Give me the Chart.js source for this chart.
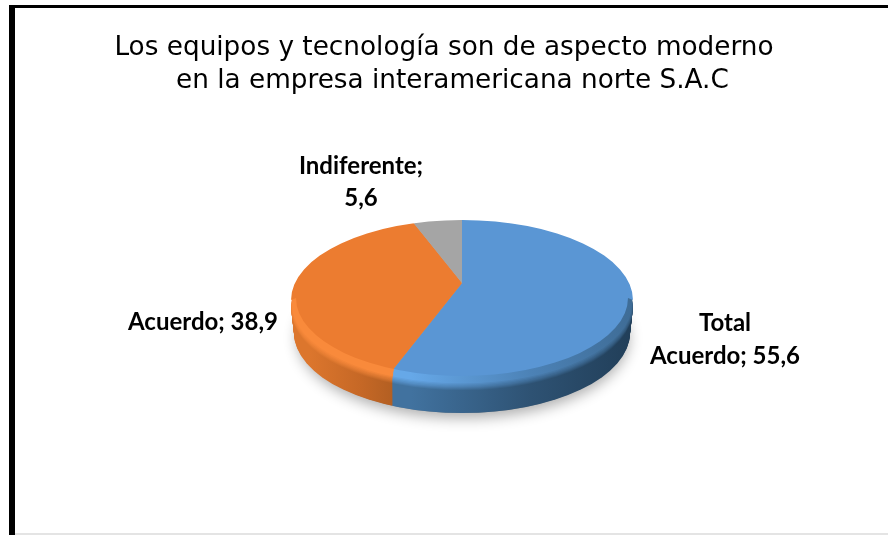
<!DOCTYPE html>
<html><head><meta charset="utf-8">
<style>
html,body{margin:0;padding:0;background:#fff;width:888px;height:535px;overflow:hidden}
#wrap{position:relative;width:888px;height:535px}
canvas{display:block}
#frame{position:absolute;left:9px;top:5px;width:879px;height:530px;border:solid #000;border-width:3px 0 0 6px;box-sizing:border-box;pointer-events:none}
#foot{position:absolute;left:15px;top:533px;width:873px;height:2px;background:#e4e4e4}
</style>
<script src="https://cdn.jsdelivr.net/npm/chart.js@4"></script>
</head><body><div id="wrap"><canvas id="c" width="888" height="535"></canvas><div id="frame"></div><div id="foot"></div></div>
<script>
const categories=['Total Acuerdo','Acuerdo','Indiferente'];
const values=[55.6,38.9,5.6];
const titleLines=['Los equipos y tecnología son de aspecto moderno','\u00a0\u00a0en la empresa interamericana norte S.A.C'];
const faceColors=['#5a96d4','#ec7c30','#a5a5a5'];
const rimStops=[['#66a8e8','#4c82b6','#3c6890'],['#f98a3b','#f98a3b','#f98a3b'],['#b0b0b0','#b0b0b0','#b0b0b0']];
const sideStops=[['#41729f','#2e5273','#1f3b54'],['#dc762d','#c66826','#a85a20'],['#8a8a8a','#8a8a8a','#8a8a8a']];
const sideRange=[[393,633],[291,393],[415,462]];
const labelLines=[['Total','Acuerdo; 55,6'],['Acuerdo; 38,9'],['Indiferente;','5,6']];
const labelCenters=[[725,323],[203,322],[361,166]];
const labelGaps=[33,0,32];

const APEX={x:462,y:283}, TILT=0.455, FACE={cx:462,cy:298,rx:166,ry:78}, OUTER={cx:462,cy:300,rx:171,ry:80}, DEPTH=35, BEVEL=9, FADE=13;

function ellipse(ctx,cx,cy,rx,ry){ctx.beginPath();ctx.ellipse(cx,cy,rx,ry,0,0,Math.PI*2);}
function facePath(ctx){
  ctx.beginPath();
  ctx.ellipse(FACE.cx,FACE.cy,FACE.rx,FACE.ry,0,0,Math.PI);
  ctx.ellipse(OUTER.cx,OUTER.cy,OUTER.rx,OUTER.ry,0,Math.PI,Math.PI*2);
  ctx.closePath();
}
function withPie(ctx,arc){ctx.translate(APEX.x,APEX.y);ctx.scale(1,TILT);ctx.translate(-arc.x,-arc.y);}
function mix(a,b,t){
  const p=s=>[1,3,5].map(i=>parseInt(s.substr(i,2),16));
  const A=p(a),B=p(b);
  return '#'+A.map((v,i)=>Math.round(v+(B[i]-v)*t).toString(16).padStart(2,'0')).join('');
}

const pie3d={id:'pie3d',
  beforeDatasetsDraw(chart){
    const ctx=chart.ctx,arcs=chart.getDatasetMeta(0).data;
    ctx.save();
    ctx.save();
    ctx.shadowColor='rgba(0,0,0,0.32)';ctx.shadowBlur=14;ctx.shadowOffsetY=5;ctx.shadowOffsetX=1;
    ctx.fillStyle='#888';ellipse(ctx,FACE.cx,FACE.cy+DEPTH,FACE.rx,80);ctx.fill();
    ctx.restore();
    for(let d=DEPTH;d>=1;d--){
      const k=Math.min(d/BEVEL,1);
      const rx=d<BEVEL?FACE.rx+5*Math.sqrt(k):FACE.rx+5-3*(d-BEVEL)/(DEPTH-BEVEL);
      const ry=FACE.ry+2*k;
      const t=d<=6?1:(d<FADE?(FADE-d)/(FADE-6):0);
      ctx.save();
      ellipse(ctx,FACE.cx,FACE.cy+d,rx,ry);ctx.clip();
      withPie(ctx,arcs[0]);
      ctx.translate(0,d/TILT);
      arcs.forEach((a,i)=>{
        const g=ctx.createLinearGradient(sideRange[i][0],0,sideRange[i][1],0);
        sideStops[i].forEach((c,s)=>g.addColorStop(s/2,mix(c,rimStops[i][s],t)));
        ctx.fillStyle=g;ctx.beginPath();ctx.moveTo(a.x,a.y);
        ctx.arc(a.x,a.y,a.outerRadius,a.startAngle,a.endAngle);ctx.closePath();ctx.fill();
      });
      ctx.restore();
    }
    facePath(ctx);ctx.clip();
    withPie(ctx,arcs[0]);
  },
  afterDatasetsDraw(chart){chart.ctx.restore();},
  afterDraw(chart){
    const ctx=chart.ctx;ctx.save();
    ctx.font='bold 24px Lato';ctx.fillStyle='#000';ctx.textAlign='center';ctx.textBaseline='middle';
    labelLines.forEach((ls,i)=>ls.forEach((s,k)=>ctx.fillText(s,labelCenters[i][0],labelCenters[i][1]+k*labelGaps[i])));
    ctx.restore();
  }
};

new Chart(document.getElementById('c'),{
  type:'pie',
  data:{labels:categories,datasets:[{data:values,backgroundColor:faceColors,borderWidth:0,radius:270,clip:false}]},
  plugins:[pie3d],
  options:{responsive:false,animation:false,
    layout:{padding:0},
    plugins:{legend:{display:false},tooltip:{enabled:false},
      title:{display:true,text:titleLines,color:'#000',padding:{top:31,bottom:0},
        font:{family:'"DejaVu Sans"',size:26.3,weight:'normal',lineHeight:1.27}}}
  }
});
</script>
</body></html>
